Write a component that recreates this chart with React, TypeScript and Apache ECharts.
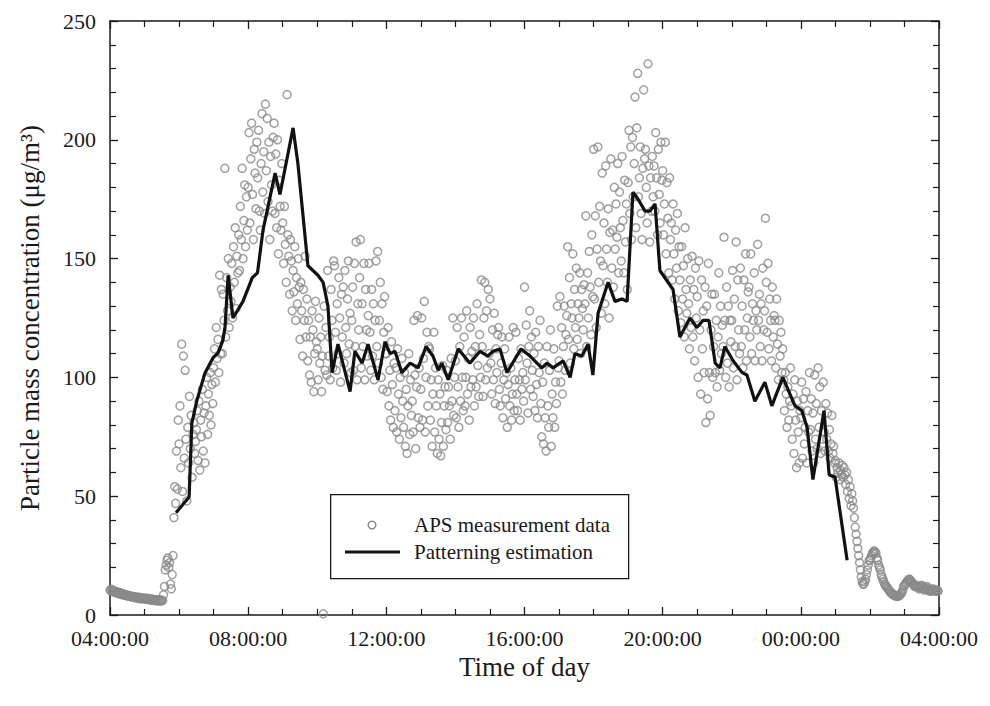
import React, { useEffect, useRef } from "react";
import * as echarts from "echarts";

// APS measurements: one array per hour of day (start hour), 1.5-minute sampling
const stepMinutes = 1.5;
const hourStarts = [4, 5, 6, 7, 8, 9, 10, 11, 12, 13, 14, 15, 16, 17, 18, 19, 20, 21, 22, 23, 24, 25, 26, 27];

const h04 = [10.5,10.1,10.8,9.9,10.3,9.6,10.0,9.4,9.8,9.1,9.5,8.9,9.3,8.7,9.0,8.5,8.8,8.3,8.6,8.1,8.4,7.9,8.2,7.8,8.0,7.6,7.9,7.5,7.7,7.3,7.6,7.2,7.5,7.0,7.4,6.9,7.2,6.8,7.1,6.9];
const h05 = [7.0,6.8,7.1,6.6,6.9,6.5,6.8,6.4,6.7,6.2,6.6,6.3,6.0,6.5,6.1,5.9,6.4,6.0,6.2,5.8,6.3,6.1,8.5,12,19,21,23,24,20,22,13,11,17,25,41,54,47,69,53,82];
const h06 = [72,88,62,114,52,109,66,103,74,48,79,64,92,70,84,58,76,81,68,73,78,86,65,90,61,82,75,95,69,85,64,88,100,76,93,84,102,80,97,89];
const h07 = [104,112,98,121,108,116,102,143,110,137,110,135,124,188,117,142,128,150,121,138,132,148,125,155,140,163,129,151,144,160,145,172,158,188,150,166,181,155,176,162];
const h08 = [180,203,165,192,207,177,158,196,186,171,199,184,204,170,162,190,211,178,195,169,215,187,209,174,199,158,193,181,170,201,207,169,194,163,200,152,183,172,162,190];
const h09 = [165,148,172,156,140,219,160,151,135,158,149,128,145,136,155,124,142,131,150,138,116,140,128,109,137,124,151,117,133,107,124,101,117,98,128,120,94,110,132,115];
const h10 = [112,99,125,106,117,94,109,0.5,130,103,121,101,145,109,117,99,137,124,104,149,147,119,103,131,110,142,125,98,135,117,138,106,145,121,110,133,149,114,127,102];
const h11 = [124,138,103,148,113,157,99,131,120,142,158,104,131,113,148,99,137,120,109,126,148,119,103,137,109,131,99,124,149,113,153,106,124,140,100,131,95,119,134,110];
const h12 = [110,94,121,88,103,82,115,97,79,106,86,104,77,112,93,74,100,83,108,90,79,102,71,95,68,88,110,76,99,84,90,77,124,101,70,96,126,83,104,79];
const h13 = [95,125,82,108,132,77,100,119,88,113,112,82,99,71,93,119,77,104,88,68,99,74,93,67,81,105,71,88,96,78,103,81,96,88,74,108,90,125,84,100];
const h14 = [107,83,121,96,79,113,90,125,100,86,117,88,100,128,93,108,82,121,96,111,99,125,88,113,96,131,105,92,118,100,141,113,92,125,140,99,128,104,137,110];
const h15 = [133,106,93,120,99,127,89,112,102,118,121,95,88,106,117,83,99,112,91,102,79,97,117,88,104,82,93,121,86,99,119,93,86,108,99,82,112,95,102,90];
const h16 = [138,99,122,106,85,113,128,95,117,103,92,110,86,119,97,83,113,102,124,89,75,98,72,106,83,69,113,88,79,103,120,71,93,83,112,79,98,89,130,104];
const h17 = [107,134,98,121,93,113,130,103,118,126,155,116,142,106,131,125,152,112,137,121,146,116,131,125,144,110,137,129,120,139,131,168,113,144,125,153,138,118,160,134];
const h18 = [196,133,168,121,154,197,140,172,149,127,186,147,165,131,189,154,140,171,125,161,192,146,162,138,180,154,173,159,190,144,178,163,149,193,166,144,183,157,173,137];
const h19 = [182,204,169,197,158,201,176,190,218,163,205,228,176,184,197,169,158,188,221,192,196,180,165,232,189,157,184,170,193,176,189,170,203,184,160,196,177,165,199,183];
const h20 = [187,160,173,199,152,182,167,144,184,158,165,141,173,152,133,162,146,169,128,155,141,123,155,133,147,117,163,137,127,150,131,112,141,121,151,117,137,107,146,125];
const h21 = [134,100,149,120,93,141,112,128,102,138,81,130,91,148,102,84,120,135,100,113,135,102,124,96,117,144,103,130,110,122,113,159,124,100,138,106,130,96,124,115];
const h22 = [124,145,104,133,113,157,99,141,120,110,146,113,130,104,141,120,152,107,125,136,138,117,152,110,131,124,144,107,128,120,156,124,135,113,131,107,146,120,128,167];
const h23 = [140,119,148,112,133,124,107,138,117,126,124,104,133,114,99,124,109,119,102,112,99,86,102,93,79,96,82,90,104,88,74,93,68,99,82,62,90,77,64,86];
const h24 = [83,98,66,91,72,79,94,64,86,77,102,78,91,69,85,64,101,74,89,70,104,79,96,68,86,74,98,77,69,89,74,85,69,78,66,72,84,68,71,64];
const h25 = [65,58,62,60,64,57,61,59,63,58,62,59,55,60,52,57,49,54,46,51,48,45,41,37,34,31,28,25,22,19,16,14,13,13,14,15,17,19,21,23];
const h26 = [23,24,25,26,26.5,27,26.5,26,24,23,21,20,19,17,16,15,14,13,12.5,12,11.5,11,10.5,10,9.5,9,9,8.5,8.5,8,8,8,7.8,8,8.2,8.5,9,9.5,10.5,12];
const h27 = [12.5,13,13.5,14,14.5,15,15,14.5,14,13.5,13,12.5,12,12,12.5,12,11.5,11,11.5,12,12.5,12,11,10.5,11,11.5,12,11,10.5,10,10.5,10,10.5,11,10.5,10,10.5,10,10.5,10];

const apsHours = [h04, h05, h06, h07, h08, h09, h10, h11, h12, h13, h14, h15, h16, h17, h18, h19, h20, h21, h22, h23, h24, h25, h26, h27];

// Patterning estimation (hours since midnight, values)
const lineTimes = [5.91,6.17,6.29,6.37,6.52,6.75,6.98,7.13,7.27,7.33,7.42,7.56,7.85,8.12,8.27,8.43,8.78,8.92,9.30,9.44,9.73,10.02,10.17,10.31,10.43,10.60,10.95,11.09,11.30,11.47,11.76,11.96,12.11,12.25,12.45,12.69,12.92,13.15,13.35,13.50,13.61,13.79,14.08,14.42,14.71,14.94,15.09,15.29,15.49,15.90,16.16,16.50,16.65,16.83,17.12,17.32,17.46,17.66,17.84,17.98,18.13,18.42,18.62,18.82,18.97,19.14,19.29,19.49,19.63,19.78,19.92,20.30,20.50,20.79,20.99,21.17,21.34,21.52,21.66,21.80,22.04,22.30,22.44,22.67,22.96,23.16,23.48,23.83,24.03,24.18,24.35,24.67,24.82,24.99,25.34];
const lineValues = [43,47.6,49.7,80.8,90.5,101.9,108.2,110.3,115.7,121.2,143,125,132,142,144,162,186,177,205,190,147,143,140,130,102,114,94,111,106,114,99,115,110,111,102,106,104,113,109,103,106,99,112,106,111,109,111,112,102,112,109,104,106,104,107,100,110,109,114,101,127,140,132,133,132,178,175,170,170,173,145,137,117,125,121,124,124,106,104,113,107,102,101,90,98,88,100,88,86,79,57,86,59,58,23];

const yTicks = [0, 50, 100, 150, 200, 250];
const xTickHours = [4, 8, 12, 16, 20, 24, 28];

const FONT = "'Liberation Serif', 'DejaVu Serif', serif";
const INK = "#1a1a1a";
const DOT = "#8a8a8a";

const pad2 = (n: number) => (n < 10 ? "0" + n : "" + n);
const timeLabel = (v: number) => pad2(Math.round(v) % 24) + ":00:00";

export default function App() {
  const ref = useRef<HTMLDivElement>(null);

  useEffect(() => {
    if (!ref.current) return;
    const chart = echarts.init(ref.current, null, { renderer: "svg" });

    const scatterData: number[][] = [];
    apsHours.forEach((arr, k) => {
      arr.forEach((v, i) => {
        scatterData.push([hourStarts[k] + (i * stepMinutes) / 60, v]);
      });
    });
    const lineData = lineTimes.map((t, i) => [t, lineValues[i]]);

    const xBase = {
      type: "value" as const,
      min: xTickHours[0],
      max: xTickHours[xTickHours.length - 1],
      interval: 4,
      axisLine: { show: true, onZero: false, lineStyle: { color: INK, width: 1.5 } },
      axisTick: { show: true, inside: true, length: 8, lineStyle: { color: INK, width: 1.3 } },
      minorTick: { show: true, splitNumber: 4, length: 6, lineStyle: { color: INK, width: 1.2 } },
      splitLine: { show: false },
      minorSplitLine: { show: false },
    };
    const yBase = {
      type: "value" as const,
      min: yTicks[0],
      max: yTicks[yTicks.length - 1],
      interval: 50,
      axisLine: { show: true, onZero: false, lineStyle: { color: INK, width: 1.5 } },
      axisTick: { show: true, inside: true, length: 8, lineStyle: { color: INK, width: 1.3 } },
      minorTick: { show: true, splitNumber: 5, length: 6, lineStyle: { color: INK, width: 1.2 } },
      splitLine: { show: false },
      minorSplitLine: { show: false },
    };

    chart.setOption({
      animation: false,
      backgroundColor: "#ffffff",
      grid: { left: 110, top: 21, right: 51, bottom: 91, containLabel: false },
      xAxis: [
        {
          ...xBase,
          position: "bottom",
          name: "Time of day",
          nameLocation: "middle",
          nameGap: 33,
          nameTextStyle: { fontFamily: FONT, fontSize: 27, color: INK },
          axisLabel: {
            show: true,
            formatter: (v: number) => timeLabel(v),
            fontFamily: FONT,
            fontSize: 22,
            color: INK,
            margin: 12,
          },
        },
        { ...xBase, position: "top", axisLabel: { show: false } },
      ],
      yAxis: [
        {
          ...yBase,
          position: "left",
          name: "Particle mass concentration (μg/m³)",
          nameLocation: "middle",
          nameGap: 67,
          nameTextStyle: { fontFamily: FONT, fontSize: 27, color: INK },
          axisLabel: { show: true, fontFamily: FONT, fontSize: 22, color: INK, margin: 14 },
        },
        { ...yBase, position: "right", axisLabel: { show: false } },
      ],
      series: [
        {
          name: "APS measurement data",
          type: "scatter",
          xAxisIndex: 0,
          yAxisIndex: 0,
          symbol: "circle",
          symbolSize: 8,
          data: scatterData,
          itemStyle: { color: "rgba(255,255,255,0)", borderColor: DOT, borderWidth: 1.5 },
          emphasis: { disabled: true },
          z: 2,
        },
        {
          name: "Patterning estimation",
          type: "line",
          xAxisIndex: 0,
          yAxisIndex: 0,
          data: lineData,
          showSymbol: false,
          symbol: "none",
          lineStyle: { color: "#111111", width: 3.2 },
          emphasis: { disabled: true },
          z: 3,
        },
      ],
      graphic: [
        {
          type: "rect",
          left: 330,
          top: 494,
          shape: { width: 298, height: 84 },
          style: { fill: "#ffffff", stroke: INK, lineWidth: 1.3 },
          z: 10,
        },
        {
          type: "circle",
          shape: { cx: 372, cy: 525, r: 3.8 },
          style: { fill: "rgba(255,255,255,0)", stroke: DOT, lineWidth: 1.5 },
          z: 11,
        },
        {
          type: "line",
          shape: { x1: 345, y1: 552, x2: 400, y2: 552 },
          style: { stroke: "#111111", lineWidth: 3.2 },
          z: 11,
        },
        {
          type: "text",
          x: 414,
          y: 525,
          style: {
            text: "APS measurement data",
            font: "21px " + FONT,
            fill: INK,
            verticalAlign: "middle",
            align: "left",
          },
          z: 11,
        },
        {
          type: "text",
          x: 414,
          y: 552,
          style: {
            text: "Patterning estimation",
            font: "21px " + FONT,
            fill: INK,
            verticalAlign: "middle",
            align: "left",
          },
          z: 11,
        },
      ],
    });

    return () => {
      chart.dispose();
    };
  }, []);

  return (
    <div
      ref={ref}
      style={{ position: "absolute", left: 0, top: 0, width: 990, height: 706, background: "#fff" }}
    />
  );
}
